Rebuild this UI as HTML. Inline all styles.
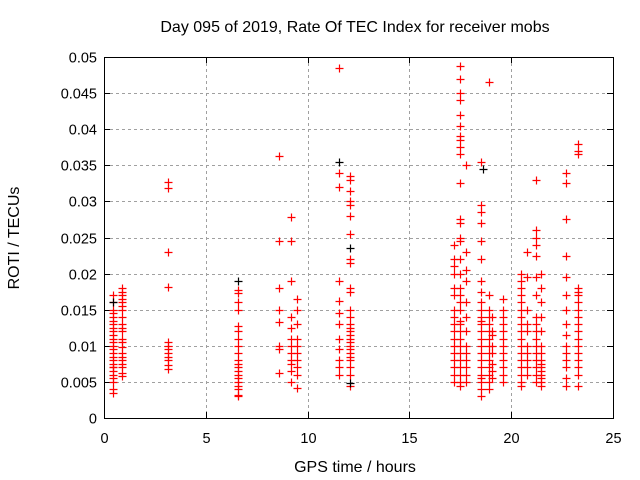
<!DOCTYPE html>
<html><head><meta charset="utf-8"><style>
body{margin:0;background:#fff}
svg{display:block;font-family:"Liberation Sans",sans-serif}
</style></head><body>
<svg id="chart" width="640" height="480" viewBox="0 0 640 480">
<rect width="640" height="480" fill="#fff"/>
<g id="grid"></g>
<g id="ticks"></g>
<g id="pts"></g>
<rect x="104.5" y="57.5" width="509" height="361" fill="none" stroke="#000" stroke-width="1"/>
<text x="355" y="32" font-size="16" text-anchor="middle">Day 095 of 2019, Rate Of TEC Index for receiver mobs</text>
<text x="0" y="0" font-size="16" text-anchor="middle" transform="translate(19,238) rotate(-90)">ROTI / TECUs</text>
<text x="355" y="472" font-size="16" text-anchor="middle">GPS time / hours</text>
</svg>
<script>
const xTicks=[0,5,10,15,20,25];
const yTicks=[0,0.005,0.01,0.015,0.02,0.025,0.03,0.035,0.04,0.045,0.05];
const yTickLabels=["0","0.005","0.01","0.015","0.02","0.025","0.03","0.035","0.04","0.045","0.05"];
const colX=[0.45,0.9,3.15,6.6,8.6,9.2,9.5,11.55,12.1,17.2,17.5,17.8,18.5,18.9,19.05,19.6,20.5,20.8,21.2,21.45,22.7,23.3];
const colVals=[
[3.5,4,5,5.5,6,6.5,7,7,7.5,8,8.5,9,9.5,10,10.5,11,11.5,12,12.5,13,13.5,14,14.5,15,16,17],
[5.8,6.3,7,7.5,8,8.5,9,9.8,10.5,11,12,12.5,13,14,15,15.5,16,16.5,17,17.5,18],
[6.8,7.3,8,8.5,9,9.5,10,10.5,18.2,23,31.8,32.7],
[3,3.2,4,4.5,5,5.5,6,6.5,7,7.5,8,9,10,11,12,12.8,15,16,17.3,17.7],
[6.3,9.5,10,13.3,15,18,24.5,36.3],
[5,6.5,7.5,8,9,10,11,12.5,14,19,24.5,27.8],
[4.2,6,7,8,9,10,11,13,15,16.5],
[6,7,8,9.5,11,13,14.5,16.2,19,32,34,48.5],
[4.5,6,7,8,8.5,9,9.5,10,10.5,11,11.5,12,12.5,13,14,15,17.5,18,21.5,22,25.5,28,29.5,30,31.5,33,33.5],
[5,6,7,8,9,10,11,12,13,14,15,17,18,20,21,22,24],
[4.5,5,6,7,8,9,10,11,12,13,13.5,15,16,17,18,20,22,24.5,25,27,27.5,32.5,36.5,37.5,38.5,39,40.5,42,44,45,47,48.8],
[5,6,7,8,9,10,12,14,16,19,20.5,23,35],
[3,4,5,5.5,6,7,8,9,10,11,12,13,13.5,14,15,16,17.5,19,22,24.5,27,28.5,29.5,35.5],
[4,5,6,7,8,9,10,11,12,13,14,15,17,46.5],
[5.5,6.5,7.5,9,10,11.5,12,14],
[5,6,7,8,9,10,11,12,13,14,15,16.5],
[4.5,5,6,7,8,9,10,11,12,13,14,15,16,17,18,19,20],
[6,7,8,9,10,12,13,15,19.5,23],
[5,6,7,8,9,10,11,12,13,14,17,19.5,22.5,24,25,26,33],
[4.5,5,5.5,6,6.5,7,7.5,8,9,10,12,14,16,18,20],
[4.5,5.5,7,8,9,10,11.5,13,15,17,19.5,22.5,27.5,32.5,34],
[4.5,6,7,8,9,10,11,12,13,14,15,16,17,17.5,18,36.5,37,38]
];
const blackX=[11.55,12.1,6.6,18.6,0.45,12.1];
const blackY=[35.5,23.5,19,34.5,16,4.8];
const NS="http://www.w3.org/2000/svg";
const sx=v=>104+v*(509/25);
const sy=v=>418-v*(361/0.05);
const grid=document.getElementById('grid'),ticks=document.getElementById('ticks'),pts=document.getElementById('pts');
function mk(tag,attrs,parent){const e=document.createElementNS(NS,tag);for(const k in attrs)e.setAttribute(k,attrs[k]);parent.appendChild(e);return e;}
xTicks.forEach((t,i)=>{
  const x=Math.round(sx(t))+0.5;
  if(i>0&&i<xTicks.length-1){const g=mk('line',{x1:x,x2:x,y1:57,y2:418,stroke:'#a0a0a0','stroke-dasharray':'3,3'},grid);
  
  }
  const l=mk('text',{x:x,y:443,'font-size':14.5,'text-anchor':'middle'},ticks);l.textContent=String(t);
  
  
  mk('line',{x1:x,x2:x,y1:418,y2:412,stroke:'#000'},ticks);
  mk('line',{x1:x,x2:x,y1:57,y2:63,stroke:'#000'},ticks);
});
yTicks.forEach((t,i)=>{
  const y=Math.round(sy(t))+0.5;
  if(i>0&&i<yTicks.length-1){const g=mk('line',{x1:104,x2:613,y1:y,y2:y,stroke:'#a0a0a0','stroke-dasharray':'3,3'},grid);
  
  }
  const l=mk('text',{x:97,y:y+5,'font-size':14.5,'text-anchor':'end'},ticks);l.textContent=yTickLabels[i];
  
  
  mk('line',{x1:104,x2:110,y1:y,y2:y,stroke:'#000'},ticks);
  mk('line',{x1:613,x2:607,y1:y,y2:y,stroke:'#000'},ticks);
});
function plus(x,y,c){
  const p=mk('path',{d:`M${x-4},${y}H${x+4}M${x},${y-4}V${y+4}`,stroke:c,'stroke-width':1.2,fill:'none'},pts);
  
  
}
colX.forEach((cx,i)=>colVals[i].forEach(v=>plus(Math.round(sx(cx))+0.5,Math.round(sy(v/1000))+0.5,'#ff0000')));
blackX.forEach((bx,i)=>plus(Math.round(sx(bx))+0.5,Math.round(sy(blackY[i]/1000))+0.5,'#000'));
</script>
</body></html>
